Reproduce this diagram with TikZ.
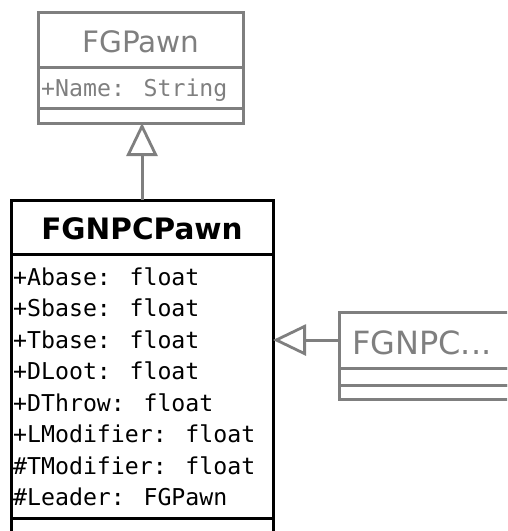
\documentclass[tikz,border=0pt]{standalone}
\usepackage{fontspec}
\setmainfont{DejaVu Sans}
\newfontfamily\monofnt{DejaVu Sans Mono}
\usetikzlibrary{arrows.meta}
\definecolor{umlgray}{HTML}{7F7F7F}
\tikzset{
  part/.style={draw, rectangle, anchor=north west, outer sep=0pt, inner sep=0pt, line width=3pt},
  grayline/.style={draw=umlgray},
  blackline/.style={draw=black},
  attr/.style={anchor=base west, inner sep=0pt, font=\monofnt\fontsize{23.2}{28}\selectfont},
  inherit/.style={line width=3pt, draw=umlgray, -{Triangle[open, length=33pt, width=31pt, line width=2.8pt]}}
}
\begin{document}
\begin{tikzpicture}[x=1pt, y=-1pt]
\useasboundingbox (0,0) rectangle (507,531);
\clip (0,0) rectangle (507,531);
% FGPawn
\node[part, grayline, minimum width=205pt, minimum height=55pt] (pawnH) at (38,12) {};
\node[part, grayline, minimum width=205pt, minimum height=41pt] (pawnA) at (38,67) {};
\node[part, grayline, minimum width=205pt, minimum height=15pt] (pawnM) at (38,108) {};
\node[anchor=base, inner sep=0pt, text=umlgray, font=\fontsize{29.5}{32}\selectfont] (pawnT) at (141,52) {FGPawn};
\node[attr, text=umlgray] (pawnA1) at (41,96.5) {+Name: String};
% FGNPCPawn
\node[part, blackline, minimum width=262pt, minimum height=54pt] (npcH) at (11,200) {};
\node[part, blackline, minimum width=262pt, minimum height=264pt] (npcA) at (11,254) {};
\node[part, blackline, minimum width=262pt, minimum height=40pt] (npcM) at (11,518) {};
\node[anchor=base, inner sep=0pt, font=\bfseries\fontsize{29.5}{32}\selectfont] (npcT) at (142,239.5) {FGNPCPawn};
\foreach \t [count=\i] in {+Abase: float,+Sbase: float,+Tbase: float,+DLoot: float,+DThrow: float,+LModifier: float,\#TModifier: float,\#Leader: FGPawn}{
  \node[attr] (npcA\i) at (13,{285.5+31.45*(\i-1)}) {\t};
}
% FGNPC...
\node[part, grayline, minimum width=200pt, minimum height=56pt] (oH) at (339,312) {};
\node[part, grayline, minimum width=200pt, minimum height=17pt] (oA) at (339,368) {};
\node[part, grayline, minimum width=200pt, minimum height=14pt] (oM) at (339,385) {};
\node[anchor=base west, inner sep=0pt, text=umlgray, font=\fontsize{32}{36}\selectfont] (oT) at (352,354.5) {FGNPC...};
% connectors
\draw[inherit] (npcH.north) -- (npcH.north |- pawnM.south);
\draw[inherit] (oH.west) -- (npcH.east |- oH.west);
\end{tikzpicture}
\end{document}
